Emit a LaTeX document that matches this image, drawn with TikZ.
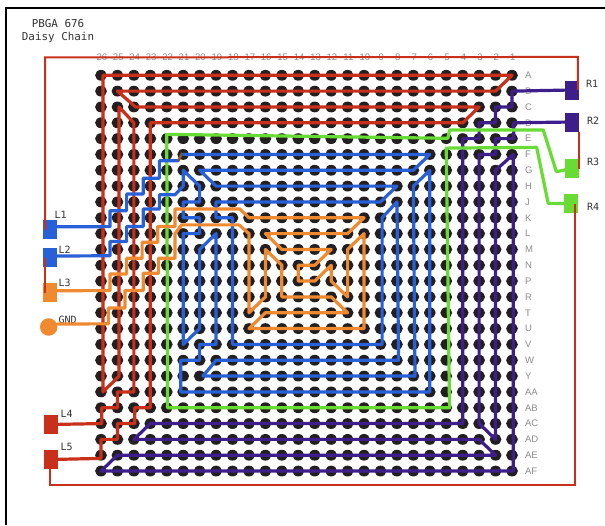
\documentclass[tikz,border=0pt]{standalone}
\usepackage{fontspec}
\setmainfont{Liberation Sans}
\setmonofont{DejaVu Sans Mono}
\definecolor{tblue}{HTML}{2860D8}
\definecolor{torange}{HTML}{F08A30}
\definecolor{tred}{HTML}{C8301C}
\definecolor{tpurple}{HTML}{3E1E8A}
\definecolor{tgreen}{HTML}{68DC34}
\definecolor{dotc}{HTML}{231F20}
\definecolor{lab}{HTML}{8C8C8C}
\tikzset{
  pad/.style={draw=none,fill=#1,minimum width=14pt,minimum height=19pt,inner sep=0pt,outer sep=0pt},
  padlabel/.style={font=\ttfamily\fontsize{10}{10}\selectfont,text=black!80,inner sep=0pt,anchor=west},
  trace/.style={draw=#1,line width=3.2pt,line join=round,line cap=round},
  wire/.style={draw=tred,line width=2pt,line join=miter},
  gridlabel/.style={font=\fontsize{9.5}{10}\selectfont,text=lab,inner sep=0pt}
}
\begin{document}
\begin{tikzpicture}[x=1pt,y=1pt]
\useasboundingbox (0,0) rectangle (605,-525);
\fill[white] (0,0) rectangle (605,-525);
\draw[black,line width=2.5pt] (6,-525) -- (6,-8) -- (605,-8);
\node[font=\ttfamily\fontsize{10.9}{13}\selectfont,text=black!80,align=center,inner sep=0pt] (title) at (58,-31) {PBGA 676\\Daisy Chain};
% pads
\node[pad=tblue] (L1) at (50,-229.5) {};
\node[pad=tblue] (L2) at (50,-257.5) {};
\node[pad=torange] (L3) at (50,-292.5) {};
\node[draw=none,fill=torange,circle,minimum size=17.5pt,inner sep=0pt] (GND) at (48.7,-327) {};
\node[pad=tred] (L4) at (51,-424.5) {};
\node[pad=tred] (L5) at (51,-459.5) {};
\node[pad=tpurple] (R1) at (571.5,-90) {};
\node[pad=tpurple] (R2) at (571.8,-122) {};
\node[pad=tgreen] (R3) at (571.5,-168.5) {};
\node[pad=tgreen] (R4) at (571,-203.5) {};
\node[padlabel] (tL1) at (54.5,-215) {L1};
\node[padlabel] (tL2) at (58.5,-250) {L2};
\node[padlabel] (tL3) at (58.5,-283) {L3};
\node[padlabel] (tGND) at (58.5,-320) {GND};
\node[padlabel] (tL4) at (60.5,-414) {L4};
\node[padlabel] (tL5) at (60.5,-447) {L5};
\node[padlabel] (tR1) at (586,-83.5) {R1};
\node[padlabel] (tR2) at (587,-120.5) {R2};
\node[padlabel] (tR3) at (587,-162) {R3};
\node[padlabel] (tR4) at (587,-207) {R4};
\begin{scope}[shift={(101,-75.3)},x=16.44pt,y=-15.83pt]
% ball grid
\foreach \c in {0,...,25}{
  \foreach \r in {0,...,25}{
    \fill[dotc] (\c,\r) ellipse [x radius=5.9pt,y radius=5.4pt];
  }
}
% labels
\foreach \c in {0,...,25}{
  \pgfmathtruncatemacro{\t}{26-\c}
  \node[gridlabel] (col\t) at (\c+0.05,-1.14) {\t};
}
\foreach \l [count=\j from 0] in {A,B,C,D,E,F,G,H,J,K,L,M,N,P,R,T,U,V,W,Y,AA,AB,AC,AD,AE,AF}{
  \node[gridlabel,anchor=west] (row\l) at (25.78,\j) {\l};
}
% purple
\draw[trace=tpurple] (R1.center) -- (25,1) -- (25,2) -- (24,2) -- (24,3) -- (23,3) -- (23,4) -- (22,4) -- (22,22) -- (3,22) -- (2,23) -- (23,23) -- (24,24) -- (1,24) -- (0,25) -- (25.08,25) -- (25.08,5) -- (24,6) -- (24,23) -- (23,22) -- (23,5) -- (24,5) -- (24,4) -- (25.1,4) -- (25.1,3) -- (R2.center);
% red
\draw[trace=tred] (L5.center) -- (0,24.2) -- (0,23) -- (1,23) -- (1,22) -- (2.05,22) -- (2.05,21) -- (3,21) -- (3,3) -- (22,3) -- (23,2) -- (2.1,2) -- (1,1) -- (24,1) -- (25,0) -- (0.12,0) -- (0.12,20) -- (1.1,19) -- (1.1,2) -- (2,3) -- (2,20) -- (1,20) -- (1,21) -- (0.05,21) -- (0.05,22) -- (L4.center);
% green
\draw[trace=tgreen] (R3.center) -- (27.7,6.09) -- (26.9,3.45) -- (21.2,3.45) -- (21.1,3.98) -- (4,3.73) -- (4.05,21) -- (21.2,21) -- (21,4.6) -- (26.5,4.55) -- (27.2,8.09) -- (R4.center);
% blue
\draw[trace=tblue] ([yshift=2.8pt]L1.east) -- (0.55,9.56) -- (0.55,8.55) -- (1.56,8.55) -- (1.56,7.5) -- (2.57,7.5) -- (2.57,6.5) -- (3.55,6.5) -- (3.55,5.4) -- (4.7,5.4);
\draw[draw=brown!70!black,line width=2.6pt] (4.7,5.4) -- (4.95,4.9);
\draw[trace=tblue] (5,5) -- (20,5) -- (19,6) -- (6,6) -- (7,7) -- (18,7) -- (17,8) -- (7,8) -- (7,9) -- (8,9) -- (8,17) -- (17.1,17) -- (17.1,9) -- (18,8) -- (18.1,18) -- (7,18) -- (6.2,19) -- (19.1,19) -- (19,7) -- (20,6) -- (20,20) -- (4.85,20) -- (4.85,18) -- (6,18) -- (6,17) -- (7,17) -- (7,10) -- (6,11) -- (6,16) -- (5,17) -- (5,10) -- (6,10) -- (6,9) -- (5,9) -- (5,8) -- (6,8) -- (6,7) -- (5,6) -- (5,7) -- (4.5,7.55) -- (3.55,7.55) -- (3.55,8.45) -- (2.57,8.45) -- (2.57,9.55) -- (1.56,9.55) -- (1.56,10.5) -- (0.55,10.5) -- (0.55,11.4) -- ([yshift=1.5pt]L2.east);
% orange
\draw[trace=torange] ([yshift=1.8pt]L3.east) -- (0.55,13.6) -- (0.55,12.55) -- (1.56,12.55) -- (1.56,11.56) -- (2.5,11.56) -- (2.5,10.55) -- (3.45,10.55) -- (3.45,9.55) -- (4.5,9.55) -- (4.5,8.45) -- (8.45,8.45) -- (9,9) -- (16,9) -- (15,10) -- (10,10) -- (11,11) -- (14,11) -- (13,12) -- (12,12) -- (12,13) -- (13,13) -- (14,12) -- (14,13) -- (15,14) -- (15,11) -- (16,10) -- (16,16) -- (9,16) -- (10,15) -- (15,15) -- (14,14) -- (11,14) -- (11,12) -- (10,11) -- (10,14) -- (9,15) -- (9,10) -- (8.4,9.45) -- (4.9,9.45) -- (4.5,10) -- (4.5,11.56) -- (3.5,11.56) -- (3.5,12.5) -- (2.57,12.5) -- (2.57,13.6) -- (1.46,13.6) -- (1.46,14.7) -- (0.45,14.7) -- (0.45,15.7) -- ([yshift=3pt]GND.east);
% thin red wires
\coordinate (tl) at (-3.4,-1.13);
\coordinate (tr) at (29,-1.16);
\coordinate (bl) at (-3.1,25.88);
\coordinate (br) at (28.83,25.88);
\draw[wire] ([xshift=2pt]L1.west) -- ([xshift=2pt]L1.west |- tl) -- (tr) -- (tr |- R1.east);
\draw[wire] ([xshift=2pt]L2.west) -- ([xshift=2pt]L3.west);
\draw[wire] (R2.south east) -- (R2.south east |- R3.west);
\draw[wire] (R4.center -| br) -- (br) -- (bl) -- (bl |- L5.center);
\end{scope}
\end{tikzpicture}
\end{document}
